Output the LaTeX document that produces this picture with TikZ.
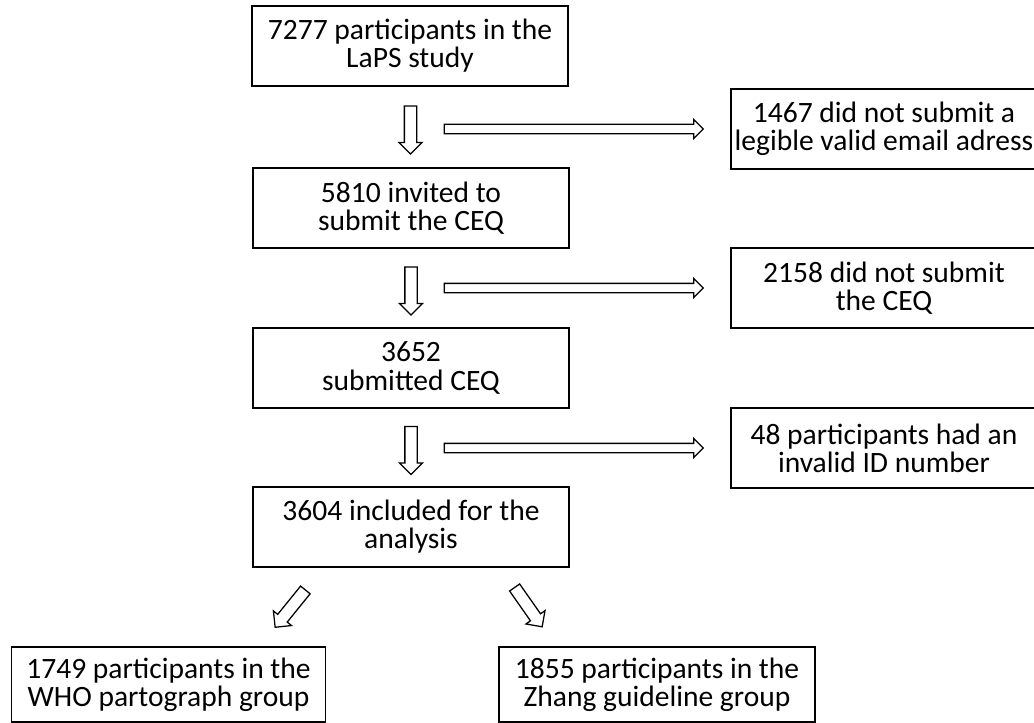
\documentclass[tikz,border=0pt]{standalone}
\usepackage{fontspec}
\setmainfont{Carlito}
\usetikzlibrary{positioning,calc,shapes.arrows}
\begin{document}
\begin{tikzpicture}[x=0.025cm,y=-0.025cm,
  every node/.style={font=\fontsize{21}{20}\selectfont},
  box/.style={draw,line width=1pt,align=center,minimum width=7.9cm,minimum height=2cm,inner sep=2pt},
  sidebox/.style={box,minimum width=7.65cm},
  hollow/.style={single arrow,draw,line width=0.9pt,inner xsep=0pt,inner ysep=0.1375cm,single arrow head indent=0pt,
    minimum width=0.55cm,single arrow head extend=0.1375cm,minimum height=1.2cm},
  hollowside/.style={hollow,inner ysep=0.1cm,minimum width=0.45cm,single arrow head extend=0.125cm,minimum height=6.475cm}]
\useasboundingbox (0,0) rectangle (1034,723);
% main column
\node[box] (n7277) at (410,46) {7277 participants in the\\LaPS study};
\node[box] (n5810) at (411,208) {5810 invited to\\submit the CEQ};
\node[box] (n3652) at (411,368) {3652\\submitted CEQ};
\node[box] (n3604) at (411,527) {3604 included for the\\analysis};
% exclusions
\node[sidebox] (e1467) at (884,129) {1467 did not submit a\\legible valid email adress};
\node[sidebox] (e2158) at (884,288) {2158 did not submit\\the CEQ};
\node[sidebox] (e48) at (884,448) {48 participants had an\\invalid ID number};
% groups
\node[box,minimum width=7.85cm,minimum height=1.875cm] (g1749) at (168.5,684.5) {1749 participants in the\\WHO partograph group};
\node[box,minimum height=1.875cm] (g1855) at (657,684.5) {1855 participants in the\\Zhang guideline group};
% arrows down
\node[hollow,rotate=-90] (d1) at ($(n7277.south)!0.5!(n5810.north)$) {};
\node[hollow,rotate=-90] (d2) at ($(n5810.south)!0.5!(n3652.north)$) {};
\node[hollow,rotate=-90] (d3) at ($(n3652.south)!0.5!(n3604.north)$) {};
% arrows right
\node[hollowside,left=0.65cm of e1467] (r1) {};
\node[hollowside,left=0.65cm of e2158] (r2) {};
\node[hollowside,left=0.65cm of e48] (r3) {};
% split
\node[hollow,rotate=-129] (s1) at ($(n3604.south)!0.49!(g1749.north)$) {};
\node[hollow,rotate=-55] (s2) at ($(n3604.south)!0.47!(g1855.north)$) {};
\end{tikzpicture}
\end{document}
